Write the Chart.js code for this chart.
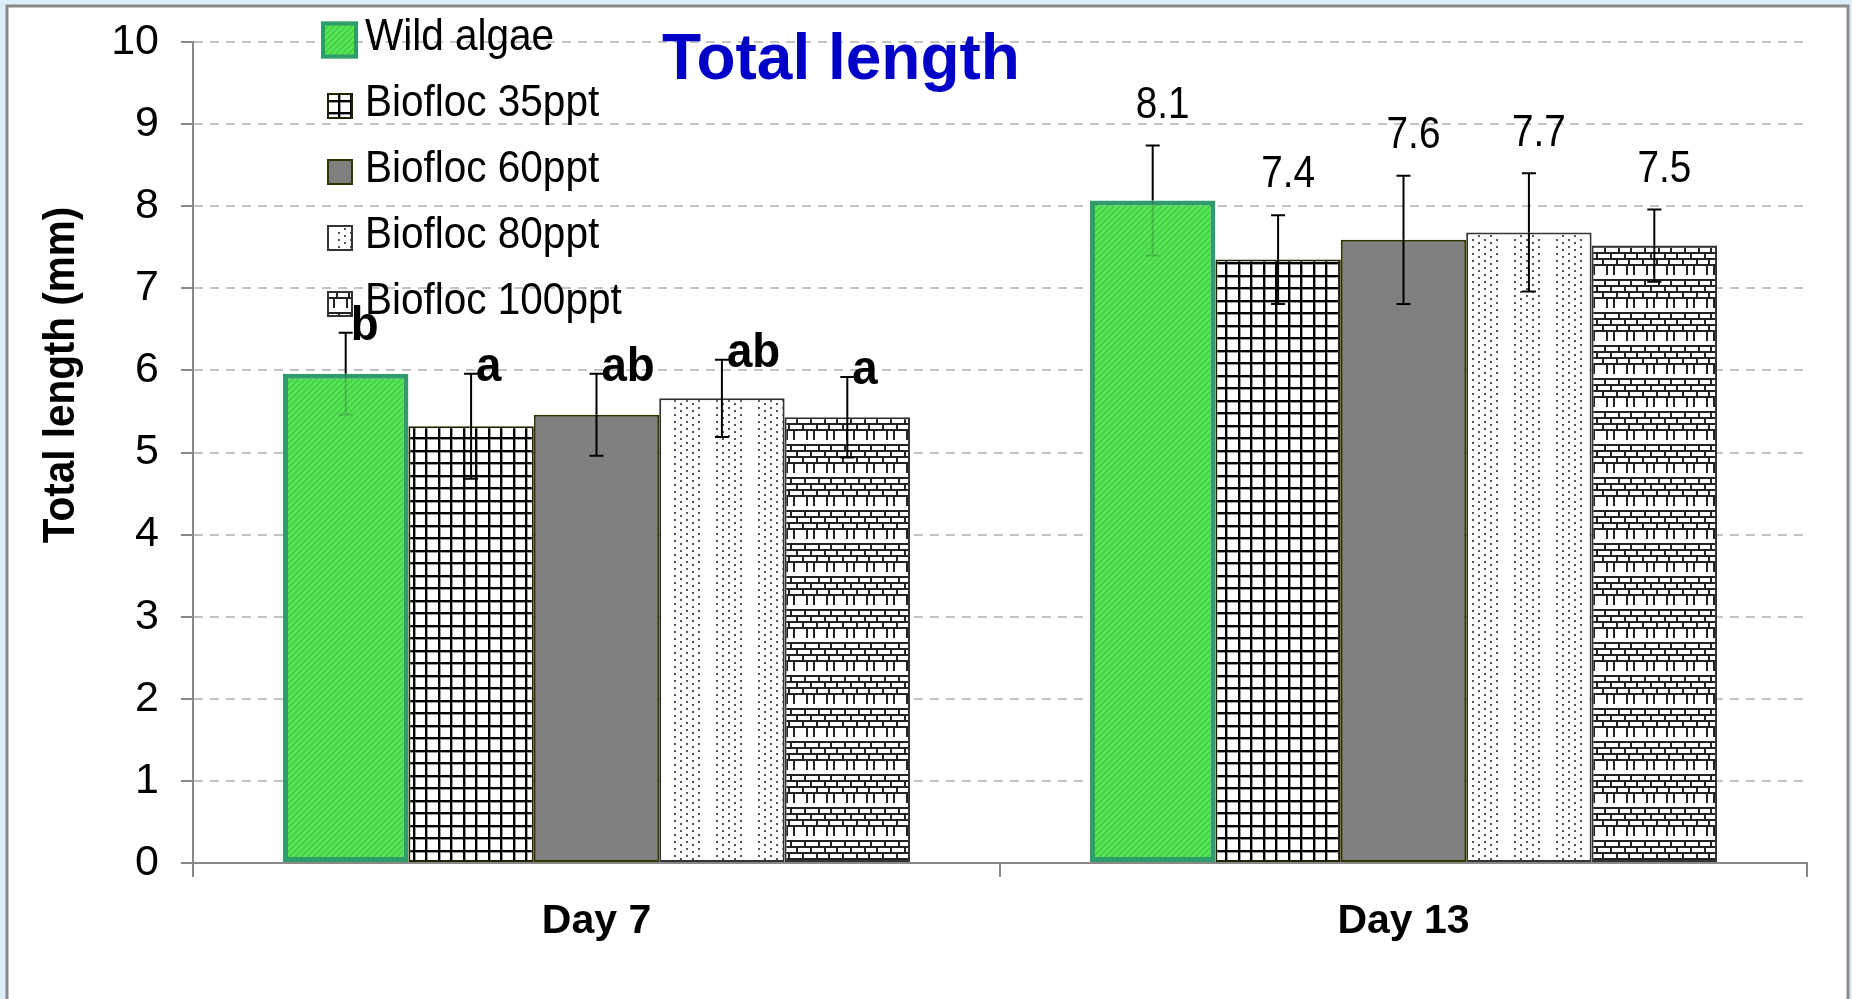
<!DOCTYPE html>
<html>
<head>
<meta charset="utf-8">
<title>Total length</title>
<script src="https://cdn.jsdelivr.net/npm/chart.js@4.4.0/dist/chart.umd.min.js"></script>
<style>
  html, body { margin: 0; padding: 0; background: #dceef8; }
  canvas { display: block; }
</style>
</head>
<body>
<canvas id="grafik" width="1852" height="999"></canvas>
<script>
// Values
const categories = ["Day 7", "Day 13"];
const seriesNames = ["Wild algae", "Biofloc 35ppt", "Biofloc 60ppt", "Biofloc 80ppt", "Biofloc 100ppt"];

const wildAlgae = [5.96, 8.07];
const biofloc35 = [5.32, 7.35];
const biofloc60 = [5.46, 7.59];
const biofloc80 = [5.66, 7.68];
const biofloc100 = [5.43, 7.52];

// standard deviations (error bars)
const wildAlgaeSd = [0.5, 0.67];
const biofloc35Sd = [0.64, 0.54];
const biofloc60Sd = [0.5, 0.78];
const biofloc80Sd = [0.47, 0.72];
const biofloc100Sd = [0.49, 0.44];

// text above bars: letters on day 7, means on day 13
const wildAlgaeLbl = ["b", "8.1"];
const biofloc35Lbl = ["a", "7.4"];
const biofloc60Lbl = ["ab", "7.6"];
const biofloc80Lbl = ["ab", "7.7"];
const biofloc100Lbl = ["a", "7.5"];

const yMin = 0, yMax = 10, yStep = 1;

const sdLists = [wildAlgaeSd, biofloc35Sd, biofloc60Sd, biofloc80Sd, biofloc100Sd];
const lblLists = [wildAlgaeLbl, biofloc35Lbl, biofloc60Lbl, biofloc80Lbl, biofloc100Lbl];

const FONT = "'Liberation Sans', Arial, sans-serif";

// Desen (pattern) karolari
function desen(w, h, ciz) {
  const c = document.createElement("canvas");
  c.width = w; c.height = h;
  const g = c.getContext("2d");
  ciz(g, w, h);
  return g.createPattern(c, "repeat");
}

const yesilDesen = desen(6, 6, (g, w, h) => {
  g.fillStyle = "#5ae45a";
  g.fillRect(0, 0, w, h);
  g.strokeStyle = "#3ccb3c";
  g.lineWidth = 1.4;
  [[0, h, w, 0], [-w, h, 0, 0], [w, h, 2 * w, 0], [0, 2 * h, w, h], [0, 0, w, -h]].forEach(([a, b, c, d]) => {
    g.beginPath(); g.moveTo(a, b); g.lineTo(c, d); g.stroke();
  });
});

const izgaraDesen = desen(25, 25, (g, w, h) => {
  g.fillStyle = "#fff";
  g.fillRect(0, 0, w, h);
  g.fillStyle = "#999";
  [0, 13].forEach((x) => g.fillRect(x, 0, 3, h));
  [0, 12].forEach((y) => g.fillRect(0, y, w, 3));
  g.fillStyle = "#000";
  [0, 13].forEach((x) => g.fillRect(x, 0, 2, h));
  [0, 12].forEach((y) => g.fillRect(0, y, w, 2));
});

const griDesen = "#808080";

const noktaDesen = desen(42, 14, (g, w, h) => {
  g.fillStyle = "#fff";
  g.fillRect(0, 0, w, h);
  g.fillStyle = "#555";
  for (let c = 0; c < 5; c++) {
    const x = 2 + c * 6;
    const ys = c % 2 === 0 ? [1, 8] : [4, 11];
    ys.forEach((y) => g.fillRect(x, y, 2, 2));
  }
});

const tuglaDesen = desen(40, 33, (g, w, h) => {
  g.fillStyle = "#fff";
  g.fillRect(0, 0, w, h);
  g.fillStyle = "#222";
  g.fillRect(0, 0, w, 2);
  [6, 13, 26, 33].forEach((x) => g.fillRect(x, 0, 2, 11));
  [15, 21, 27].forEach((y) => g.fillRect(0, y, w, 2));
  [4, 18, 30].forEach((x) => g.fillRect(x, 15, 2, 6));
  [10, 24, 36].forEach((x) => g.fillRect(x, 21, 2, 6));
  [2, 16, 28].forEach((x) => g.fillRect(x, 27, 2, 6));
});

const fills = [yesilDesen, izgaraDesen, griDesen, noktaDesen, tuglaDesen];
const borders = ["#2f9c6c", "#222200", "#333300", "#333333", "#333333"];
const borderWidths = [5, 2, 2, 2, 2];

// yatayda biraz sikistirilmis yazi (orijinaldeki gibi)
function yaz(ctx, metin, x, y, hiza, sx) {
  ctx.save();
  ctx.translate(x, y);
  ctx.scale(sx, 1);
  ctx.textAlign = hiza;
  ctx.fillText(metin, 0, 0);
  ctx.restore();
}

// Arka plan ve cerceve
const cercevePlugin = {
  id: "cerceve",
  beforeDraw(chart) {
    const ctx = chart.ctx;
    ctx.save();
    ctx.fillStyle = "#dceef8";
    ctx.fillRect(0, 0, chart.width, chart.height);
    ctx.fillStyle = "#fff";
    ctx.fillRect(7, 6, 1841, chart.height);
    ctx.strokeStyle = "#8a8a8a";
    ctx.lineWidth = 3;
    ctx.strokeRect(7, 6, 1841, chart.height + 10);
    ctx.restore();
  },
};

// Hata cubuklari
const hataPlugin = {
  id: "hataCubuklari",
  afterDatasetsDraw(chart) {
    const ctx = chart.ctx;
    const y = chart.scales.y;
    chart.data.datasets.forEach((ds, i) => {
      const meta = chart.getDatasetMeta(i);
      meta.data.forEach((bar, j) => {
        const v = ds.data[j];
        const sd = sdLists[i][j];
        const ust = y.getPixelForValue(v + sd);
        const alt = y.getPixelForValue(v - sd);
        const orta = y.getPixelForValue(v);
        ctx.save();
        ctx.lineWidth = 2;
        ctx.strokeStyle = "#000";
        ctx.beginPath();
        ctx.moveTo(bar.x, ust); ctx.lineTo(bar.x, orta);
        ctx.moveTo(bar.x - 7, ust); ctx.lineTo(bar.x + 7, ust);
        ctx.stroke();
        // yesil cubuk icinde alt kisim soluk gorunuyor
        ctx.strokeStyle = i === 0 ? "rgba(0,0,0,0.15)" : "#000";
        ctx.beginPath();
        ctx.moveTo(bar.x, orta); ctx.lineTo(bar.x, alt);
        ctx.moveTo(bar.x - 7, alt); ctx.lineTo(bar.x + 7, alt);
        ctx.stroke();
        ctx.restore();
      });
    });
  },
};

// Harfler ve ortalama etiketleri
const etiketPlugin = {
  id: "etiketler",
  afterDatasetsDraw(chart) {
    const ctx = chart.ctx;
    const y = chart.scales.y;
    chart.data.datasets.forEach((ds, i) => {
      const meta = chart.getDatasetMeta(i);
      meta.data.forEach((bar, j) => {
        const ust = y.getPixelForValue(ds.data[j] + sdLists[i][j]);
        const metin = lblLists[i][j];
        ctx.save();
        ctx.fillStyle = "#000";
        ctx.textBaseline = "middle";
        if (j === 0) {
          ctx.font = "bold 48px " + FONT;
          yaz(ctx, metin, bar.x + 5, ust - 6, "left", 0.95);
        } else {
          ctx.font = "44px " + FONT;
          yaz(ctx, metin, bar.x + 10, ust - 40, "center", 0.88);
        }
        ctx.restore();
      });
    });
  },
};

// Baslik, eksen basligi ve lejant
const yaziPlugin = {
  id: "yazilar",
  afterDraw(chart) {
    const ctx = chart.ctx;
    const alan = chart.chartArea;
    ctx.save();

    ctx.fillStyle = "#0000c8";
    ctx.font = "bold 64px " + FONT;
    ctx.textBaseline = "alphabetic";
    yaz(ctx, "Total length", 841, 79, "center", 1.0);

    ctx.fillStyle = "#000";
    ctx.font = "bold 44px " + FONT;
    ctx.translate(62, 375);
    ctx.rotate(-Math.PI / 2);
    ctx.textBaseline = "middle";
    yaz(ctx, "Total length (mm)", 0, 0, "center", 0.92);
    ctx.restore();

    // lejant
    ctx.save();
    seriesNames.forEach((ad, i) => {
      const taban = alan.top + 8 + 66 * i;
      const merkez = taban - 10;
      const boyut = i === 0 ? 37 : 26;
      const sx = alan.left + 128 + (i === 0 ? 0 : 6);
      const sy = merkez - boyut / 2;
      ctx.fillStyle = fills[i];
      ctx.fillRect(sx, sy, boyut, boyut);
      ctx.strokeStyle = borders[i];
      ctx.lineWidth = i === 0 ? 4 : 2;
      ctx.strokeRect(sx + ctx.lineWidth / 2, sy + ctx.lineWidth / 2, boyut - ctx.lineWidth, boyut - ctx.lineWidth);
      ctx.fillStyle = "#000";
      ctx.font = "45px " + FONT;
      ctx.textBaseline = "alphabetic";
      yaz(ctx, ad, alan.left + 172, taban, "left", 0.9);
    });
    ctx.restore();
  },
};

const seriler = [wildAlgae, biofloc35, biofloc60, biofloc80, biofloc100];

const grafik = new Chart(document.getElementById("grafik"), {
  type: "bar",
  data: {
    labels: categories,
    datasets: seriler.map((veri, i) => ({
      label: seriesNames[i],
      data: veri,
      backgroundColor: fills[i],
      borderColor: borders[i],
      borderWidth: borderWidths[i],
      borderSkipped: false,
      barPercentage: 1,
      categoryPercentage: 0.777,
    })),
  },
  options: {
    responsive: false,
    animation: false,
    devicePixelRatio: 1,
    layout: { padding: { top: 42, right: 45, bottom: 0, left: 0 } },
    plugins: {
      legend: { display: false },
      tooltip: { enabled: false },
    },
    scales: {
      x: {
        offset: true,
        grid: {
          display: true,
          offset: true,
          drawOnChartArea: false,
          tickLength: 14,
          color: "#888",
          lineWidth: 2,
        },
        border: { display: true, color: "#888", width: 2 },
        ticks: {
          color: "#000",
          font: { family: FONT, size: 41, weight: "bold" },
          padding: 20,
        },
        afterFit: (s) => { s.height = 136; },
      },
      y: {
        min: yMin,
        max: yMax,
        ticks: {
          stepSize: yStep,
          color: "#000",
          font: { family: FONT, size: 43 },
          padding: 22,
        },
        grid: {
          color: "#c3c3c3",
          lineWidth: 2,
          tickLength: 12,
          tickColor: "#888",
          tickWidth: 2,
          tickBorderDash: [],
        },
        border: { display: true, color: "#888", width: 2, dash: [9, 7] },
        afterFit: (s) => {
          s.width = 193;
          // ust etiketin istedigi ek bosluk olmasin
          s.paddingTop = 0;
          s.paddingBottom = 0;
        },
      },
    },
  },
  plugins: [cercevePlugin, hataPlugin, etiketPlugin, yaziPlugin],
});
</script>
</body>
</html>
